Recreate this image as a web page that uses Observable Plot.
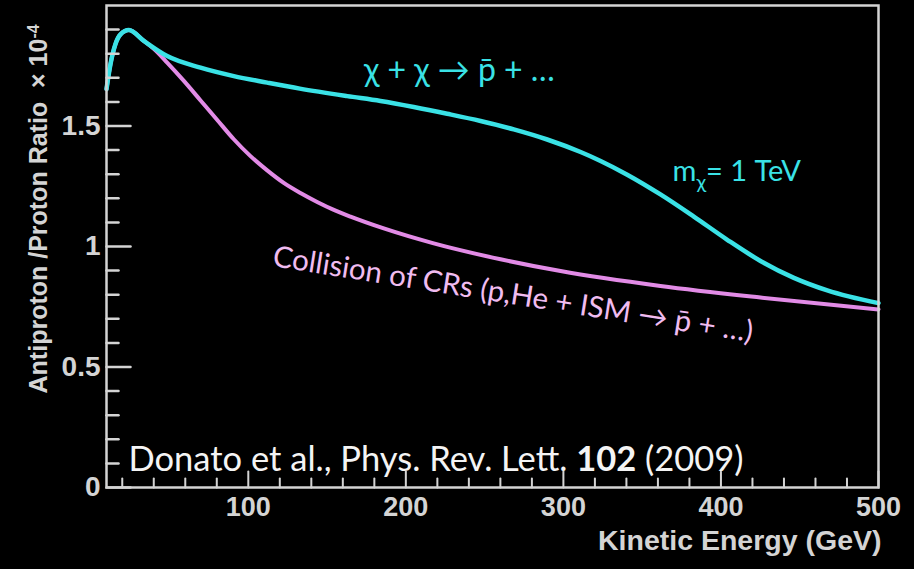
<!DOCTYPE html>
<html>
<head>
<meta charset="utf-8">
<script src="https://cdn.jsdelivr.net/npm/d3@7"></script>
<script src="https://cdn.jsdelivr.net/npm/@observablehq/plot@0.6"></script>
<style>
  html, body { margin: 0; padding: 0; background: #000; }
  #chart svg { display: block; }
</style>
</head>
<body>
<div id="chart"></div>
<script>
// Antiproton/proton ratio (in units of 1e-4) vs kinetic energy (GeV)
// Dark-matter annihilation (m_chi = 1 TeV) plus secondary background
const energyDM = [10, 12.5, 15.7, 18.9, 24.2, 33.7, 48.5, 69.7, 90.8, 112, 132.7, 162.8, 183.9, 205, 226.2, 247.4, 268.5, 289.7, 310.9, 323.6, 340.5, 361.6, 382.8, 404, 425.1, 446.3, 467.5, 500];
const ratioDM  = [1.653, 1.756, 1.84, 1.88, 1.898, 1.853, 1.79, 1.742, 1.707, 1.68, 1.655, 1.624, 1.604, 1.579, 1.551, 1.521, 1.486, 1.444, 1.392, 1.355, 1.298, 1.216, 1.124, 1.028, 0.94, 0.87, 0.818, 0.765];

// Secondary production from cosmic-ray collisions with the ISM
const energyCR = [10, 12.5, 15.7, 18.9, 24.2, 33.7, 40, 48.5, 59.1, 69.7, 80.3, 90.8, 101.4, 112, 122.5, 133.1, 143.7, 154.3, 164.9, 186, 217.7, 260.1, 298.2, 361.6, 425.1, 500];
const ratioCR  = [1.653, 1.756, 1.84, 1.88, 1.898, 1.853, 1.82, 1.763, 1.687, 1.606, 1.525, 1.445, 1.375, 1.316, 1.264, 1.222, 1.185, 1.152, 1.124, 1.075, 1.013, 0.947, 0.898, 0.836, 0.788, 0.739];

// Axis ticks
const xMajorTicks = [100, 200, 300, 400, 500];
const xMinorTicks = [20, 40, 60, 80, 120, 140, 160, 180, 220, 240, 260, 280, 320, 340, 360, 380, 420, 440, 460, 480];
const yMajorTicks = [0, 0.5, 1, 1.5];
const yMinorTicks = [0.1, 0.2, 0.3, 0.4, 0.6, 0.7, 0.8, 0.9, 1.1, 1.2, 1.3, 1.4, 1.6, 1.7, 1.8, 1.9];

const dmSeries = energyDM.map((e, i) => ({energy: e, ratio: ratioDM[i]}));
const crSeries = energyCR.map((e, i) => ({energy: e, ratio: ratioCR[i]}));

const cyan = "#3ae2e6";
const pink = "#e28be6";
const axisGrey = "#d4d4d4";
const labelFont = "'Liberation Sans', Arial, Helvetica, sans-serif";
const noteFont = "Lato, 'Open Sans', sans-serif";

// ticks drawn inward from the frame
const tickShape = {draw(context, l) { context.moveTo(0, 0); context.lineTo(0, -l); }};

const chart = Plot.plot({
  width: 914,
  height: 569,
  marginLeft: 106,
  marginRight: 36,
  marginTop: 5,
  marginBottom: 82,
  style: {background: "#000", color: axisGrey, fontFamily: labelFont},
  x: {domain: [10, 500]},
  y: {domain: [0, 2]},
  marks: [
    Plot.line(crSeries, {x: "energy", y: "ratio", stroke: pink, strokeWidth: 4, curve: "monotone-x"}),
    Plot.line(dmSeries, {x: "energy", y: "ratio", stroke: cyan, strokeWidth: 4.5, curve: "monotone-x"}),

    Plot.vector(yMinorTicks, {y: d => d, frameAnchor: "left", rotate: 90, length: 12, anchor: "start", shape: tickShape, stroke: axisGrey, strokeWidth: 2.5}),
    Plot.vector(yMajorTicks, {y: d => d, frameAnchor: "left", rotate: 90, length: 24, anchor: "start", shape: tickShape, stroke: axisGrey, strokeWidth: 2.5}),
    Plot.vector(xMinorTicks, {x: d => d, frameAnchor: "bottom", rotate: 0, length: 9, anchor: "start", shape: tickShape, stroke: axisGrey, strokeWidth: 2}),
    Plot.vector(xMajorTicks, {x: d => d, frameAnchor: "bottom", rotate: 0, length: 16, anchor: "start", shape: tickShape, stroke: axisGrey, strokeWidth: 2}),
    Plot.frame({stroke: axisGrey, strokeWidth: 2.5}),

    Plot.axisX({ticks: xMajorTicks, tickSize: 0, tickPadding: 9, fontSize: 27, fontWeight: "bold", label: null, fill: axisGrey}),
    Plot.axisY({ticks: yMajorTicks, tickSize: 0, tickPadding: 6, fontSize: 28, fontWeight: "bold", label: null, fill: axisGrey, tickFormat: d => String(d)}),

    Plot.text(["Kinetic Energy (GeV)"], {frameAnchor: "bottom-right", text: d => d, dx: 3, dy: 62, textAnchor: "end", fontSize: 28.5, fontWeight: "bold", fill: axisGrey}),
    Plot.text(["Antiproton /Proton Ratio  \u00d7 10"], {frameAnchor: "left", y: 1.156, text: d => d, rotate: -90, dx: -68, textAnchor: "middle", fontSize: 25, fontWeight: "bold", fill: axisGrey}),

    Plot.text(["\u03c7 + \u03c7 \u2192 p\u0304 + \u2026"], {x: 234, y: 1.728, text: d => d, fontFamily: noteFont, fontSize: 32, fill: cyan}),
    Plot.text(["m\u03c7= 1 TeV"], {x: 410, y: 1.31, text: d => d, fontFamily: noteFont, fontSize: 29, fill: cyan}),
    Plot.text(["Collision of CRs (p,He + ISM \u2192 p\u0304 + \u2026)"], {x: 268, y: 0.80, text: d => d, rotate: 9, fontFamily: noteFont, fontSize: 29.5, fill: "#f0bcf0"}),
    Plot.text(["Donato et al., Phys. Rev. Lett. 102 (2009)"], {x: 24, y: 0.115, text: d => d, textAnchor: "start", fontFamily: noteFont, fontSize: 34.5, fill: "#f4f4f4"})
  ]
});

// rich text: superscripts, subscripts and bold runs
const svg = d3.select(chart);
svg.selectAll("text").each(function() {
  const t = d3.select(this);
  const s = this.textContent;
  if (s === "Antiproton /Proton Ratio  \u00d7 10") {
    t.append("tspan").attr("dy", "-0.5em").attr("font-size", 16).text("-4");
  } else if (s === "m\u03c7= 1 TeV") {
    t.text(null);
    t.append("tspan").text("m");
    t.append("tspan").attr("dy", 8).attr("font-size", 20).text("\u03c7");
    t.append("tspan").attr("dy", -8).text("= 1 TeV");
  } else if (s === "Donato et al., Phys. Rev. Lett. 102 (2009)") {
    t.text(null);
    t.append("tspan").text("Donato et al., Phys. Rev. Lett. ");
    t.append("tspan").attr("font-weight", "bold").text("102");
    t.append("tspan").text(" (2009)");
  }
});

document.getElementById("chart").appendChild(chart);
</script>
</body>
</html>
